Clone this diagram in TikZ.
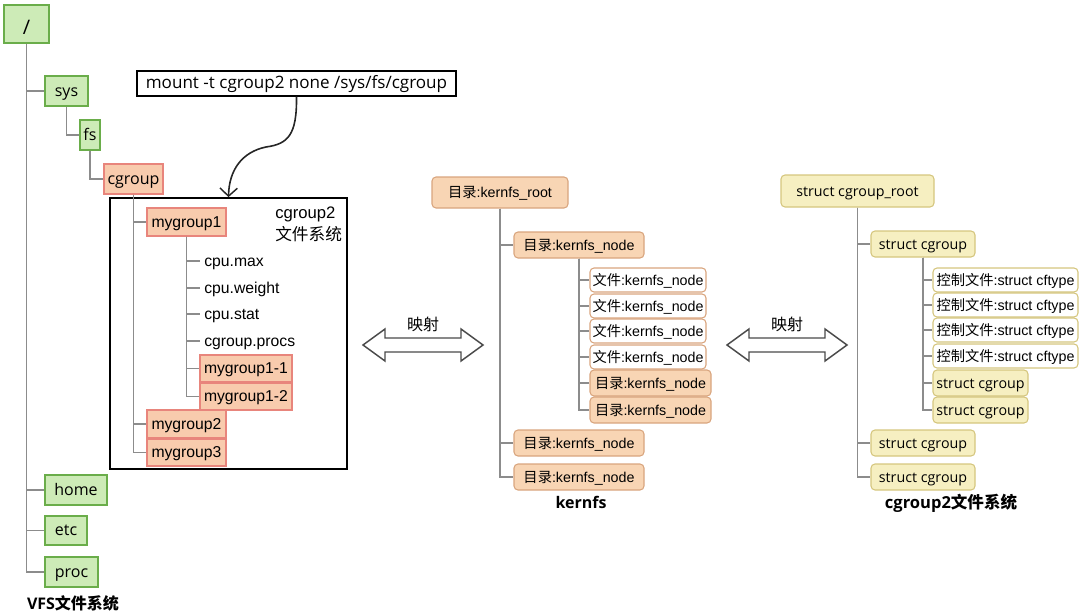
\documentclass[tikz,border=0pt]{standalone}
\usepackage{fontspec}
\setmainfont{Open Sans}
\newfontfamily\arial{Liberation Sans}
\newfontfamily\cjk{Noto Sans CJK SC}
\usetikzlibrary{arrows.meta}
\definecolor{gfill}{HTML}{CDEBB7}
\definecolor{gline}{HTML}{6AAD4A}
\definecolor{sfill}{HTML}{F8CBAD}
\definecolor{sline}{HTML}{E8857C}
\definecolor{kfill}{HTML}{F8D5B4}
\definecolor{kline}{HTML}{D9A57E}
\definecolor{yfill}{HTML}{F6EFC1}
\definecolor{yline}{HTML}{D5C67E}
\definecolor{tline}{HTML}{8C8C8C}
\definecolor{aline}{HTML}{4A4A4A}
\begin{document}
\begin{tikzpicture}[x=0.75pt,y=-0.75pt,
  wh/.style 2 args={minimum width={#1*0.75pt}, minimum height={#2*0.75pt}},
  box/.style={draw, line width=1.1pt, inner sep=0pt, text height=0.76em, text depth=0pt},
  gbox/.style={box, fill=gfill, draw=gline, font=\fontsize{12}{14}\selectfont},
  sbox/.style={box, fill=sfill, draw=sline, font=\arial\fontsize{11.8}{14}\selectfont},
  sboxo/.style={box, fill=sfill, draw=sline, font=\fontsize{12}{14}\selectfont},
  plain/.style={inner sep=3pt, anchor=west, text height=0.76em, text depth=0pt, font=\arial\fontsize{11.8}{14}\selectfont},
  kbox/.style={box, rounded corners=3pt, fill=kfill, draw=kline, line width=0.8pt, font=\arial\fontsize{10.7}{13}\selectfont},
  kfile/.style={kbox, fill=white},
  ybox/.style={box, rounded corners=3pt, fill=yfill, draw=yline, line width=0.8pt, font=\fontsize{10.7}{13}\selectfont},
  yfile/.style={ybox, fill=white, font=\arial\fontsize{10.7}{13}\selectfont},
  tree/.style={draw=tline, line width=1pt},
  lbl/.style={inner sep=0pt, font=\bfseries\fontsize{12}{14}\selectfont},
  darrow/.style={draw=aline, line width=1.1pt, fill=white, line join=miter}
]
\useasboundingbox (0,0) rectangle (1080,613);

% ---------------- VFS tree ----------------
\node[gbox, wh={45}{38}, font=\fontsize{15}{17}\selectfont] (root) at (26.5,24) {\raisebox{-4pt}{/}};
\node[gbox, wh={43}{30}] (sys) at (66.5,91) {sys};
\node[gbox, wh={20}{30}] (fs) at (90,135) {fs};
\node[sboxo, wh={59}{30}] (cg) at (133.5,179) {cgroup};
\node[gbox, wh={62}{30}] (home) at (76,490) {home};
\node[gbox, wh={42}{29}] (etc) at (66,530.5) {etc};
\node[gbox, wh={53}{30}] (proc) at (71.5,572) {proc};

\node[draw=black, line width=1.3pt, wh={237}{271}, inner sep=0pt] (fsbox) at (228.5,333.5) {};
\node[inner sep=0pt, align=left, anchor=north west, font=\arial\fontsize{12.5}{16}\selectfont] (fslabel) at (275,207) {cgroup2\\{\cjk 文件系统}};

\node[sbox, wh={79}{28}] (my1) at (186.5,222) {mygroup1};
\node[plain] (cmax) at (200,261) {cpu.max};
\node[plain] (cweight) at (200,288) {cpu.weight};
\node[plain] (cstat) at (200,314) {cpu.stat};
\node[plain] (cprocs) at (200,341) {cgroup.procs};
\node[sbox, wh={92}{27}] (my11) at (246,368.5) {mygroup1-1};
\node[sbox, wh={92}{27}] (my12) at (246,396.5) {mygroup1-2};
\node[sbox, wh={79}{28}] (my2) at (186.5,424) {mygroup2};
\node[sbox, wh={79}{27}] (my3) at (186.5,452.5) {mygroup3};

\foreach \c in {sys,home,etc,proc} \draw[tree] (root.south) |- (\c.west);
\draw[tree] (sys.south) |- (fs.west);
\draw[tree] (fs.south) |- (cg.west);
\foreach \c in {my1,my2,my3} \draw[tree] (cg.south) |- (\c.west);
\foreach \c in {cmax,cweight,cstat,cprocs,my11,my12} \draw[tree] (my1.south) |- (\c.west);

\node[draw=black, line width=0.9pt, fill=white, wh={319}{25}, inner sep=0pt, text height=0.76em, text depth=0pt, font=\fontsize{12.8}{14}\selectfont] (mount) at (296.5,83.5) {mount -t cgroup2 none /sys/fs/cgroup};
\draw[line width=1.2pt, black!85, -{Straight Barb[length=6pt,width=13pt,line width=1.1pt]}]
  (mount.south) .. controls (297,135) and (288,144) .. (266,147)
  .. controls (242,152) and (229,170) .. (fsbox.north);

\node[lbl] (vfs) at (73,603) {VFS{\cjk 文件系统}};

% ---------------- mapping arrows ----------------
\draw[darrow] (363,345) -- (385,329) -- (385,338) -- (461,338) -- (461,329) -- (483,345)
  -- (461,361) -- (461,352) -- (385,352) -- (385,361) -- cycle;
\node[inner sep=0pt, font=\cjk\fontsize{12}{14}\selectfont] (map1) at (423,324) {映射};
\draw[darrow] (727,345) -- (749,329) -- (749,338) -- (825,338) -- (825,329) -- (847,345)
  -- (825,361) -- (825,352) -- (749,352) -- (749,361) -- cycle;
\node[inner sep=0pt, font=\cjk\fontsize{12}{14}\selectfont] (map2) at (787,324) {映射};

% ---------------- kernfs ----------------
\node[kbox, wh={136}{31}] (kroot) at (500,192.5) {{\cjk 目录}:kernfs\_root};
\node[kbox, wh={130}{26}] (kn1) at (579,245) {{\cjk 目录}:kernfs\_node};
\node[kbox, wh={130}{26}] (kn2) at (579,443) {{\cjk 目录}:kernfs\_node};
\node[kbox, wh={130}{26}] (kn3) at (579,477) {{\cjk 目录}:kernfs\_node};
\node[kfile, wh={116}{24}] (kf1) at (648,280) {{\cjk 文件}:kernfs\_node};
\node[kfile, wh={116}{24}] (kf2) at (648,306) {{\cjk 文件}:kernfs\_node};
\node[kfile, wh={116}{24}] (kf3) at (648,331) {{\cjk 文件}:kernfs\_node};
\node[kfile, wh={116}{24}] (kf4) at (648,357) {{\cjk 文件}:kernfs\_node};
\node[kbox, wh={121}{26}] (kd1) at (650.5,383) {{\cjk 目录}:kernfs\_node};
\node[kbox, wh={121}{26}] (kd2) at (650.5,410) {{\cjk 目录}:kernfs\_node};
\foreach \c in {kn1,kn2,kn3} \draw[tree] (kroot.south) |- (\c.west);
\foreach \c in {kf1,kf2,kf3,kf4,kd1,kd2} \draw[tree] (kn1.south) |- (\c.west);
\node[lbl] (klabel) at (581,502) {kernfs};

% ---------------- cgroup2 ----------------
\node[ybox, wh={153}{32}] (croot) at (857.5,191) {struct cgroup\_root};
\node[ybox, wh={104}{26}] (cg1) at (923,244) {struct cgroup};
\node[ybox, wh={104}{26}] (cg2) at (923,443) {struct cgroup};
\node[ybox, wh={104}{26}] (cg3) at (923,477) {struct cgroup};
\node[yfile, wh={145}{24}] (cf1) at (1005.5,280) {{\cjk 控制文件}:struct cftype};
\node[yfile, wh={145}{24}] (cf2) at (1005.5,305) {{\cjk 控制文件}:struct cftype};
\node[yfile, wh={145}{24}] (cf3) at (1005.5,330) {{\cjk 控制文件}:struct cftype};
\node[yfile, wh={145}{24}] (cf4) at (1005.5,356) {{\cjk 控制文件}:struct cftype};
\node[ybox, wh={95}{26}] (cg1a) at (980.5,383) {struct cgroup};
\node[ybox, wh={95}{26}] (cg1b) at (980.5,410) {struct cgroup};
\foreach \c in {cg1,cg2,cg3} \draw[tree] (croot.south) |- (\c.west);
\foreach \c in {cf1,cf2,cf3,cf4,cg1a,cg1b} \draw[tree] (cg1.south) |- (\c.west);
\node[lbl, font=\bfseries\fontsize{12.4}{14}\selectfont] (clabel) at (951,503) {cgroup2{\cjk 文件系统}};
\end{tikzpicture}
\end{document}
